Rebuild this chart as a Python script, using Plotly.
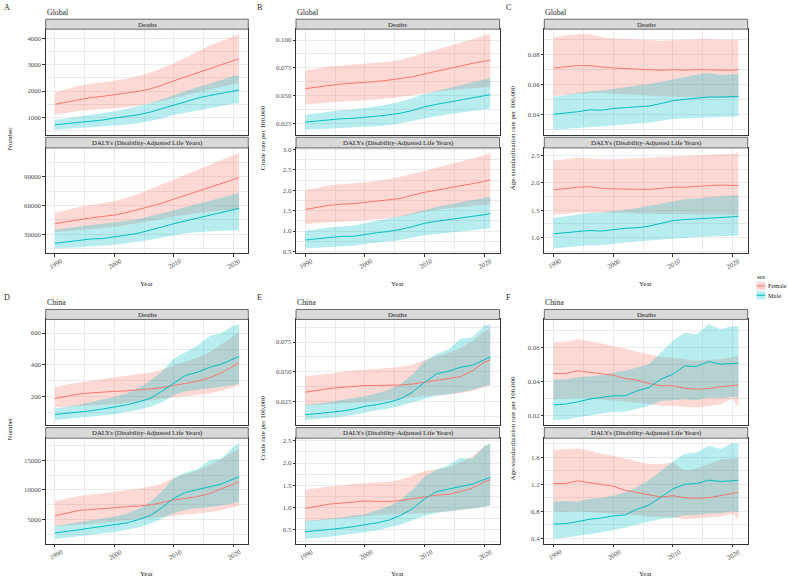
import plotly.graph_objects as go

# ---------------- data ----------------
years = [1990, 1992, 1994, 1996, 1998, 2000, 2002, 2004, 2006, 2008, 2010, 2012, 2014, 2016, 2018, 2020, 2021]

# A  Global, Number
gn_d_f = [1500, 1590, 1680, 1750, 1800, 1860, 1920, 1990, 2080, 2220, 2390, 2540, 2690, 2850, 3000, 3160, 3230]
gn_d_f_hi = [1950, 2080, 2200, 2280, 2330, 2390, 2470, 2570, 2700, 2880, 3060, 3280, 3500, 3720, 3900, 4080, 4170]
gn_d_f_lo = [1100, 1180, 1240, 1280, 1310, 1340, 1390, 1440, 1520, 1620, 1740, 1850, 1960, 2070, 2170, 2260, 2300]
gn_d_m = [720, 760, 810, 860, 900, 975, 1040, 1100, 1200, 1330, 1480, 1610, 1730, 1830, 1920, 2010, 2040]
gn_d_m_hi = [910, 960, 1030, 1100, 1160, 1230, 1320, 1420, 1540, 1690, 1850, 2000, 2150, 2280, 2420, 2570, 2600]
gn_d_m_lo = [530, 560, 590, 620, 640, 670, 720, 780, 860, 960, 1090, 1180, 1270, 1350, 1430, 1520, 1540]

gn_y_f = [41000, 43000, 45500, 47000, 48500, 50000, 52500, 55500, 59000, 62500, 66500, 70500, 74500, 78500, 82500, 87000, 89000]
gn_y_f_hi = [52500, 55500, 58500, 60500, 62500, 64500, 68000, 72000, 77000, 82000, 87000, 92000, 97000, 102000, 107000, 112000, 115000]
gn_y_f_lo = [32000, 33000, 34500, 35500, 36500, 37500, 39500, 41500, 44000, 46000, 48500, 50500, 52000, 53500, 54500, 55500, 56000]
gn_y_m = [20500, 22000, 23500, 25000, 25500, 27000, 29000, 31000, 34000, 37500, 41000, 44000, 47000, 49500, 52500, 55500, 57000]
gn_y_m_hi = [35000, 36500, 38000, 39500, 40500, 42000, 44000, 46000, 48500, 51500, 55000, 58500, 62000, 65000, 68000, 71500, 73000]
gn_y_m_lo = [15000, 15500, 16500, 17500, 18000, 19000, 20500, 22000, 24000, 26500, 29000, 31000, 32000, 33000, 33500, 34000, 34000]

# B  Global, crude rate
gc_d_f = [0.0563, 0.0578, 0.0593, 0.0605, 0.0612, 0.0617, 0.0628, 0.0640, 0.0652, 0.0670, 0.0696, 0.0720, 0.0745, 0.0768, 0.0790, 0.0810, 0.0820]
gc_d_f_hi = [0.0726, 0.0745, 0.0762, 0.0772, 0.0780, 0.0786, 0.0796, 0.0806, 0.0822, 0.0852, 0.0886, 0.0916, 0.0946, 0.0978, 0.1008, 0.1040, 0.1055]
gc_d_f_lo = [0.0420, 0.0430, 0.0440, 0.0448, 0.0452, 0.0456, 0.0465, 0.0475, 0.0488, 0.0503, 0.0520, 0.0535, 0.0548, 0.0558, 0.0567, 0.0575, 0.0578]
gc_d_m = [0.0262, 0.0272, 0.0285, 0.0292, 0.0296, 0.0304, 0.0316, 0.0328, 0.0343, 0.0368, 0.0400, 0.0422, 0.0441, 0.0458, 0.0475, 0.0500, 0.0509]
gc_d_m_hi = [0.0328, 0.0342, 0.0358, 0.0368, 0.0376, 0.0389, 0.0405, 0.0422, 0.0445, 0.0478, 0.0515, 0.0543, 0.0570, 0.0595, 0.0618, 0.0645, 0.0655]
gc_d_m_lo = [0.0193, 0.0198, 0.0203, 0.0207, 0.0210, 0.0214, 0.0224, 0.0236, 0.0252, 0.0275, 0.0298, 0.0316, 0.0333, 0.0348, 0.0362, 0.0380, 0.0385]

gc_y_f = [1.53, 1.58, 1.63, 1.66, 1.67, 1.70, 1.73, 1.76, 1.80, 1.88, 1.95, 2.00, 2.06, 2.11, 2.16, 2.22, 2.25]
gc_y_f_hi = [2.00, 2.06, 2.12, 2.15, 2.17, 2.19, 2.23, 2.27, 2.33, 2.40, 2.48, 2.55, 2.63, 2.70, 2.77, 2.86, 2.92]
gc_y_f_lo = [1.17, 1.19, 1.21, 1.23, 1.24, 1.26, 1.28, 1.31, 1.35, 1.41, 1.47, 1.52, 1.56, 1.59, 1.62, 1.65, 1.66]
gc_y_m = [0.78, 0.81, 0.85, 0.87, 0.87, 0.92, 0.96, 0.99, 1.04, 1.11, 1.19, 1.24, 1.28, 1.31, 1.35, 1.40, 1.43]
gc_y_m_hi = [1.00, 1.04, 1.09, 1.11, 1.13, 1.19, 1.25, 1.30, 1.36, 1.44, 1.52, 1.59, 1.65, 1.70, 1.75, 1.81, 1.84]
gc_y_m_lo = [0.57, 0.59, 0.61, 0.63, 0.64, 0.68, 0.71, 0.74, 0.78, 0.84, 0.90, 0.93, 0.96, 0.99, 1.02, 1.05, 1.07]

# C  Global, age-standardized rate
ga_d_f = [0.0711, 0.0718, 0.0727, 0.0727, 0.0718, 0.0711, 0.0708, 0.0704, 0.0700, 0.0696, 0.0700, 0.0697, 0.0700, 0.0700, 0.0700, 0.0696, 0.0702]
ga_d_f_hi = [0.0916, 0.0925, 0.0938, 0.0936, 0.0918, 0.0907, 0.0905, 0.0902, 0.0898, 0.0893, 0.0895, 0.0898, 0.0902, 0.0904, 0.0900, 0.0898, 0.0900]
ga_d_f_lo = [0.0525, 0.0532, 0.0540, 0.0545, 0.0545, 0.0542, 0.0538, 0.0533, 0.0528, 0.0522, 0.0520, 0.0518, 0.0516, 0.0515, 0.0515, 0.0514, 0.0515]
ga_d_m = [0.0404, 0.0412, 0.0420, 0.0433, 0.0430, 0.0442, 0.0447, 0.0450, 0.0458, 0.0475, 0.0494, 0.0503, 0.0508, 0.0518, 0.0518, 0.0518, 0.0522]
ga_d_m_hi = [0.0520, 0.0532, 0.0545, 0.0556, 0.0562, 0.0573, 0.0582, 0.0592, 0.0605, 0.0620, 0.0638, 0.0652, 0.0666, 0.0678, 0.0664, 0.0671, 0.0672]
ga_d_m_lo = [0.0300, 0.0305, 0.0310, 0.0316, 0.0320, 0.0329, 0.0335, 0.0341, 0.0348, 0.0360, 0.0372, 0.0376, 0.0379, 0.0380, 0.0384, 0.0389, 0.0390]

ga_y_f = [1.87, 1.90, 1.92, 1.93, 1.90, 1.89, 1.89, 1.88, 1.88, 1.90, 1.92, 1.92, 1.94, 1.95, 1.96, 1.95, 1.95]
ga_y_f_hi = [2.41, 2.44, 2.46, 2.45, 2.43, 2.43, 2.44, 2.45, 2.46, 2.47, 2.48, 2.49, 2.51, 2.52, 2.53, 2.53, 2.55]
ga_y_f_lo = [1.42, 1.44, 1.46, 1.46, 1.46, 1.46, 1.45, 1.44, 1.43, 1.43, 1.43, 1.43, 1.43, 1.43, 1.43, 1.42, 1.42]
ga_y_m = [1.07, 1.09, 1.10, 1.13, 1.12, 1.15, 1.17, 1.18, 1.21, 1.26, 1.31, 1.33, 1.34, 1.35, 1.37, 1.38, 1.39]
ga_y_m_hi = [1.36, 1.39, 1.42, 1.45, 1.46, 1.48, 1.51, 1.54, 1.58, 1.63, 1.67, 1.70, 1.72, 1.74, 1.76, 1.78, 1.78]
ga_y_m_lo = [0.80, 0.82, 0.84, 0.86, 0.86, 0.89, 0.91, 0.93, 0.95, 0.97, 0.99, 1.00, 1.01, 1.02, 1.03, 1.04, 1.04]

# D  China, Number
cn_d_f = [190, 205, 218, 225, 232, 235, 238, 242, 250, 258, 273, 285, 298, 320, 350, 390, 413]
cn_d_f_hi = [262, 278, 290, 300, 312, 322, 332, 342, 352, 370, 400, 420, 445, 480, 530, 585, 605]
cn_d_f_lo = [135, 138, 142, 146, 150, 155, 162, 170, 178, 188, 198, 205, 212, 222, 238, 258, 270]
cn_d_m = [90, 97, 105, 113, 124, 137, 150, 168, 190, 235, 283, 335, 355, 385, 405, 438, 453]
cn_d_m_hi = [127, 138, 151, 168, 185, 200, 222, 255, 300, 360, 440, 480, 520, 580, 600, 645, 655]
cn_d_m_lo = [55, 62, 69, 77, 85, 92, 105, 118, 138, 165, 210, 235, 245, 252, 262, 273, 283]

cn_y_f = [5670, 6100, 6550, 6700, 6900, 7060, 7180, 7300, 7500, 7850, 8330, 8600, 8900, 9400, 10200, 11000, 11390]
cn_y_f_hi = [8170, 8600, 9000, 9200, 9450, 9720, 9950, 10200, 10600, 11100, 12000, 12600, 13300, 14200, 15200, 16400, 16900]
cn_y_f_lo = [3900, 4000, 4150, 4300, 4500, 4700, 4850, 5000, 5200, 5400, 5600, 5800, 6000, 6250, 6600, 7200, 7400]
cn_y_m = [2780, 3000, 3300, 3600, 3900, 4170, 4450, 5000, 5700, 7000, 8610, 9610, 10100, 10560, 11000, 11830, 12220]
cn_y_m_hi = [4000, 4300, 4600, 4950, 5250, 5500, 6000, 6800, 8000, 9800, 12000, 13000, 13500, 15000, 15300, 17200, 17900]
cn_y_m_lo = [1780, 2000, 2200, 2450, 2700, 2940, 3300, 3700, 4300, 5200, 6100, 6670, 6900, 7100, 7400, 7780, 8060]

# E  China, crude rate
cc_d_f = [0.0329, 0.0345, 0.0360, 0.0370, 0.0378, 0.0385, 0.0386, 0.0387, 0.0390, 0.0398, 0.0413, 0.0432, 0.0443, 0.0460, 0.0510, 0.0580, 0.0600]
cc_d_f_hi = [0.0463, 0.0475, 0.0488, 0.0500, 0.0510, 0.0520, 0.0525, 0.0530, 0.0540, 0.0560, 0.0600, 0.0630, 0.0660, 0.0700, 0.0760, 0.0840, 0.0865]
cc_d_f_lo = [0.0218, 0.0222, 0.0228, 0.0234, 0.0240, 0.0248, 0.0255, 0.0264, 0.0272, 0.0285, 0.0298, 0.0305, 0.0312, 0.0320, 0.0340, 0.0375, 0.0385]
cc_d_m = [0.0140, 0.0149, 0.0159, 0.0170, 0.0186, 0.0211, 0.0225, 0.0245, 0.0275, 0.0330, 0.0413, 0.0483, 0.0505, 0.0539, 0.0555, 0.0604, 0.0624]
cc_d_m_hi = [0.0222, 0.0233, 0.0247, 0.0264, 0.0280, 0.0295, 0.0320, 0.0350, 0.0400, 0.0480, 0.0590, 0.0650, 0.0688, 0.0778, 0.0790, 0.0890, 0.0900]
cc_d_m_lo = [0.0095, 0.0104, 0.0113, 0.0124, 0.0138, 0.0160, 0.0177, 0.0193, 0.0215, 0.0244, 0.0270, 0.0300, 0.0310, 0.0330, 0.0350, 0.0380, 0.0390]

cc_y_f = [0.985, 1.04, 1.08, 1.10, 1.12, 1.15, 1.14, 1.14, 1.16, 1.20, 1.25, 1.28, 1.30, 1.36, 1.44, 1.58, 1.63]
cc_y_f_hi = [1.41, 1.44, 1.48, 1.51, 1.53, 1.55, 1.56, 1.58, 1.63, 1.72, 1.82, 1.86, 1.90, 2.02, 2.15, 2.38, 2.42]
cc_y_f_lo = [0.69, 0.71, 0.73, 0.75, 0.78, 0.80, 0.83, 0.85, 0.86, 0.87, 0.88, 0.90, 0.92, 0.95, 0.98, 1.03, 1.05]
cc_y_m = [0.46, 0.48, 0.51, 0.54, 0.57, 0.62, 0.66, 0.72, 0.83, 0.98, 1.20, 1.36, 1.42, 1.48, 1.53, 1.63, 1.68]
cc_y_m_hi = [0.70, 0.72, 0.75, 0.78, 0.82, 0.86, 0.94, 1.03, 1.18, 1.40, 1.70, 1.85, 1.95, 2.12, 2.10, 2.38, 2.45]
cc_y_m_lo = [0.30, 0.32, 0.35, 0.38, 0.41, 0.45, 0.49, 0.55, 0.62, 0.72, 0.82, 0.88, 0.91, 0.94, 0.98, 1.02, 1.05]

# F  China, age-standardized rate
ca_d_f = [0.0447, 0.0447, 0.0463, 0.0453, 0.0447, 0.0437, 0.0418, 0.0408, 0.0388, 0.0375, 0.0375, 0.0361, 0.0355, 0.0359, 0.0369, 0.0378, 0.0380]
ca_d_f_hi = [0.0629, 0.0635, 0.0649, 0.0639, 0.0624, 0.0610, 0.0594, 0.0575, 0.0561, 0.0545, 0.0540, 0.0530, 0.0522, 0.0528, 0.0531, 0.0545, 0.0550]
ca_d_f_lo = [0.0296, 0.0300, 0.0305, 0.0300, 0.0295, 0.0290, 0.0282, 0.0275, 0.0265, 0.0258, 0.0258, 0.0250, 0.0247, 0.0255, 0.0265, 0.0300, 0.0245]
ca_d_m = [0.0263, 0.0267, 0.0280, 0.0296, 0.0306, 0.0316, 0.0316, 0.0345, 0.0365, 0.0414, 0.0443, 0.0492, 0.0488, 0.0518, 0.0502, 0.0508, 0.0508]
ca_d_m_hi = [0.0410, 0.0414, 0.0424, 0.0430, 0.0437, 0.0453, 0.0463, 0.0482, 0.0502, 0.0571, 0.0639, 0.0688, 0.0678, 0.0737, 0.0708, 0.0727, 0.0724]
ca_d_m_lo = [0.0173, 0.0175, 0.0188, 0.0198, 0.0208, 0.0222, 0.0222, 0.0241, 0.0257, 0.0286, 0.0290, 0.0296, 0.0290, 0.0306, 0.0302, 0.0310, 0.0306]

ca_y_f = [1.21, 1.21, 1.25, 1.22, 1.19, 1.17, 1.11, 1.08, 1.05, 1.01, 1.03, 1.00, 0.99, 1.00, 1.03, 1.06, 1.08]
ca_y_f_hi = [1.71, 1.72, 1.73, 1.70, 1.65, 1.62, 1.575, 1.535, 1.50, 1.50, 1.52, 1.40, 1.43, 1.50, 1.565, 1.575, 1.60]
ca_y_f_lo = [0.80, 0.79, 0.80, 0.79, 0.78, 0.77, 0.76, 0.74, 0.72, 0.71, 0.71, 0.68, 0.69, 0.70, 0.72, 0.76, 0.68]
ca_y_m = [0.61, 0.615, 0.645, 0.68, 0.70, 0.73, 0.745, 0.83, 0.89, 1.01, 1.13, 1.20, 1.21, 1.26, 1.24, 1.25, 1.26]
ca_y_m_hi = [0.94, 0.95, 0.94, 0.98, 1.00, 1.03, 1.08, 1.16, 1.26, 1.40, 1.535, 1.65, 1.67, 1.77, 1.72, 1.81, 1.80]
ca_y_m_lo = [0.39, 0.41, 0.44, 0.46, 0.49, 0.52, 0.555, 0.605, 0.645, 0.685, 0.70, 0.74, 0.74, 0.77, 0.77, 0.80, 0.79]

# tick labels
x_ticks = [1990, 2000, 2010, 2020]
x_minor = [1995, 2005, 2015]
a_d_ticks = ["1000", "2000", "3000", "4000"]
a_y_ticks = ["30000", "60000", "90000"]
b_d_ticks = ["0.025", "0.050", "0.075", "0.100"]
b_y_ticks = ["0.5", "1.0", "1.5", "2.0", "2.5", "3.0"]
c_d_ticks = ["0.04", "0.06", "0.08"]
c_y_ticks = ["1.0", "1.5", "2.0", "2.5"]
d_d_ticks = ["200", "400", "600"]
d_y_ticks = ["5000", "10000", "15000"]
e_d_ticks = ["0.025", "0.050", "0.075"]
e_y_ticks = ["0.5", "1.0", "1.5", "2.0", "2.5"]
f_d_ticks = ["0.02", "0.04", "0.06"]
f_y_ticks = ["0.4", "0.8", "1.2", "1.6"]

facet_names = ["Deaths", "DALYs (Disability-Adjusted Life Years)"]
sex_names = ["Female", "Male"]

panels = [
    ("A", "Global", "Number", 0, 0,
     [(gn_d_f, gn_d_f_lo, gn_d_f_hi, gn_d_m, gn_d_m_lo, gn_d_m_hi, a_d_ticks),
      (gn_y_f, gn_y_f_lo, gn_y_f_hi, gn_y_m, gn_y_m_lo, gn_y_m_hi, a_y_ticks)]),
    ("B", "Global", "Crude rate per 100,000", 0, 1,
     [(gc_d_f, gc_d_f_lo, gc_d_f_hi, gc_d_m, gc_d_m_lo, gc_d_m_hi, b_d_ticks),
      (gc_y_f, gc_y_f_lo, gc_y_f_hi, gc_y_m, gc_y_m_lo, gc_y_m_hi, b_y_ticks)]),
    ("C", "Global", "Age-standardization rate per 100,000", 0, 2,
     [(ga_d_f, ga_d_f_lo, ga_d_f_hi, ga_d_m, ga_d_m_lo, ga_d_m_hi, c_d_ticks),
      (ga_y_f, ga_y_f_lo, ga_y_f_hi, ga_y_m, ga_y_m_lo, ga_y_m_hi, c_y_ticks)]),
    ("D", "China", "Number", 1, 0,
     [(cn_d_f, cn_d_f_lo, cn_d_f_hi, cn_d_m, cn_d_m_lo, cn_d_m_hi, d_d_ticks),
      (cn_y_f, cn_y_f_lo, cn_y_f_hi, cn_y_m, cn_y_m_lo, cn_y_m_hi, d_y_ticks)]),
    ("E", "China", "Crude rate per 100,000", 1, 1,
     [(cc_d_f, cc_d_f_lo, cc_d_f_hi, cc_d_m, cc_d_m_lo, cc_d_m_hi, e_d_ticks),
      (cc_y_f, cc_y_f_lo, cc_y_f_hi, cc_y_m, cc_y_m_lo, cc_y_m_hi, e_y_ticks)]),
    ("F", "China", "Age-standardization rate per 100,000", 1, 2,
     [(ca_d_f, ca_d_f_lo, ca_d_f_hi, ca_d_m, ca_d_m_lo, ca_d_m_hi, f_d_ticks),
      (ca_y_f, ca_y_f_lo, ca_y_f_hi, ca_y_m, ca_y_m_lo, ca_y_m_hi, f_y_ticks)]),
]

# ---------------- style / layout ----------------
W, H = 788, 579
FONT = "Liberation Serif, Times New Roman, Times, serif"
LINE_COL = ["#F8766D", "#00BFC4"]
FILL_COL = ["rgba(248,118,109,0.28)", "rgba(0,191,196,0.28)"]
BORDER = "#333333"
GRID = "#EBEBEB"
TXT = "#262626"

COLS = [(45.7, 248.3), (296.0, 499.5), (544.3, 747.7)]
ROW_OFF = [0.0, 291.8]
STRIPS = [(17.3, 27.3), (136.0, 146.7)]
PLOTS = [(27.3, 133.3), (146.7, 252.7)]
LETTER_X = [3, 256, 505]
YTITLE_X = [10, 263, 513]


def fx(x):
    return x / W


def fy(y):
    return 1 - y / H


def note(text, x, y, size, color=TXT, xanchor="center", angle=0, xref="paper"):
    return dict(text=text, xref=xref, yref="paper", x=x, y=y, xanchor=xanchor,
                yanchor="middle", showarrow=False, textangle=angle, borderpad=0,
                font=dict(size=size, color=color, family=FONT, weight="normal"))


fig = go.Figure()
layout = dict(width=W, height=H, margin=dict(l=0, r=0, t=0, b=0),
              paper_bgcolor="white", plot_bgcolor="white", showlegend=False,
              font=dict(family=FONT, color=TXT, weight="normal"))
shapes = []
annotations = []

for (letter, region, ytitle, row, col, facets) in panels:
    x0, x1 = COLS[col]
    off = ROW_OFF[row]
    for fi, (f_v, f_lo, f_hi, m_v, m_lo, m_hi, tick_labels) in enumerate(facets):
        idx = (row * 3 + col) * 2 + fi + 1
        xa = "x" if idx == 1 else f"x{idx}"
        ya = "y" if idx == 1 else f"y{idx}"
        # ribbons
        for si, (lo, hi) in enumerate([(f_lo, f_hi), (m_lo, m_hi)]):
            fig.add_trace(go.Scatter(x=years, y=lo, mode="lines", line=dict(width=0),
                                     hoverinfo="skip", xaxis=xa, yaxis=ya))
            fig.add_trace(go.Scatter(x=years, y=hi, mode="lines", line=dict(width=0),
                                     fill="tonexty", fillcolor=FILL_COL[si],
                                     name=sex_names[si], xaxis=xa, yaxis=ya))
        for si, v in enumerate([f_v, m_v]):
            fig.add_trace(go.Scatter(x=years, y=v, mode="lines",
                                     line=dict(color=LINE_COL[si], width=1.0),
                                     name=sex_names[si], xaxis=xa, yaxis=ya))
        # y range like ggplot (5% expansion)
        allv = f_lo + f_hi + m_lo + m_hi + f_v + m_v
        lo_v, hi_v = min(allv), max(allv)
        pad = (hi_v - lo_v) * 0.05
        tvals = [float(t) for t in tick_labels]
        step = tvals[1] - tvals[0]
        minor = [tvals[0] - step / 2] + [t + step / 2 for t in tvals]
        py0, py1 = PLOTS[fi]
        xkey = "xaxis" if idx == 1 else f"xaxis{idx}"
        ykey = "yaxis" if idx == 1 else f"yaxis{idx}"
        layout[xkey] = dict(domain=[fx(x0), fx(x1)], anchor=ya, range=[1988.45, 2022.55],
                            tickvals=x_ticks, showticklabels=False,
                            ticks="outside" if fi == 1 else "", ticklen=2.5, tickwidth=0.6,
                            tickcolor=BORDER, showgrid=True, gridcolor=GRID, gridwidth=0.7,
                            minor=dict(tickvals=x_minor, showgrid=True, gridcolor=GRID,
                                       gridwidth=0.35, ticks=""),
                            showline=True, mirror=True, linecolor=BORDER, linewidth=0.7,
                            zeroline=False, fixedrange=True)
        layout[ykey] = dict(domain=[fy(py1 + off), fy(py0 + off)], anchor=xa,
                            range=[lo_v - pad, hi_v + pad],
                            tickvals=tvals, ticktext=tick_labels,
                            tickfont=dict(size=6.8, color="#4D4D4D", family=FONT),
                            ticks="outside", ticklen=2.5, tickwidth=0.6, tickcolor=BORDER,
                            showgrid=True, gridcolor=GRID, gridwidth=0.7,
                            minor=dict(tickvals=minor, showgrid=True, gridcolor=GRID,
                                       gridwidth=0.35, ticks=""),
                            showline=True, mirror=True, linecolor=BORDER, linewidth=0.7,
                            zeroline=False, fixedrange=True)
        # strip
        sy0, sy1 = STRIPS[fi]
        shapes.append(dict(type="rect", xref="paper", yref="paper",
                           x0=fx(x0), x1=fx(x1), y0=fy(sy1 + off), y1=fy(sy0 + off),
                           fillcolor="#D9D9D9", line=dict(color=BORDER, width=0.7),
                           layer="above"))
        annotations.append(note(facet_names[fi], fx((x0 + x1) / 2),
                                fy((sy0 + sy1) / 2 + off), 6.8, "#1A1A1A"))
        # x tick labels for the bottom facet
        if fi == 1:
            for yr in x_ticks:
                a = note(str(yr), yr, fy(py1 + off + 10.5), 6.8, "#4D4D4D",
                         angle=-30, xref=xa)
                a["xshift"] = 1
                annotations.append(a)
    # panel texts
    annotations.append(note(letter, fx(LETTER_X[col]), fy(5.5 + off), 8, xanchor="left"))
    annotations.append(note(region, fx(x0), fy(10.5 + off), 7.8, xanchor="left"))
    annotations.append(note(ytitle, fx(YTITLE_X[col]), fy(137 + off), 7, angle=-90))
    annotations.append(note("Year", fx((x0 + x1) / 2), fy(283 + off), 7))

# legend (sex)
annotations.append(note("sex", fx(755.5), fy(276.5), 6.0, xanchor="left"))
for si, name in enumerate(sex_names):
    ky0 = 281.3 + si * 9.4
    ky1 = ky0 + 8.2
    shapes.append(dict(type="rect", xref="paper", yref="paper", x0=fx(756.5), x1=fx(765.3),
                       y0=fy(ky1), y1=fy(ky0), fillcolor=FILL_COL[si], line=dict(width=0)))
    shapes.append(dict(type="line", xref="paper", yref="paper", x0=fx(756.5), x1=fx(765.3),
                       y0=fy((ky0 + ky1) / 2), y1=fy((ky0 + ky1) / 2),
                       line=dict(color=LINE_COL[si], width=1)))
    annotations.append(note(name, fx(767.2), fy((ky0 + ky1) / 2), 6.3, "#1A1A1A",
                            xanchor="left"))

layout["shapes"] = shapes
layout["annotations"] = annotations
fig.update_layout(**layout)
fig.write_html("out.html")
